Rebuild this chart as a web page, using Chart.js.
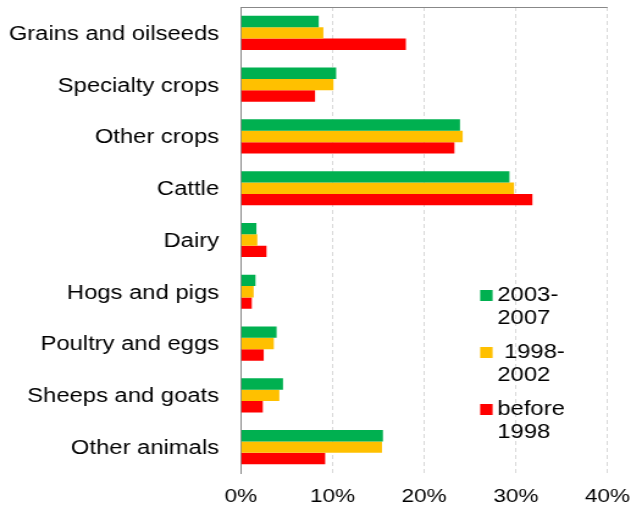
<!DOCTYPE html>
<html>
<head>
<meta charset="utf-8">
<script src="https://cdn.jsdelivr.net/npm/chart.js@4/dist/chart.umd.min.js"></script>
<style>
  html, body { margin: 0; padding: 0; background: #fff; overflow: hidden; }
  #wrap { position: absolute; left: 0; top: 0; width: 517px; height: 510px; transform: scaleX(1.2205); transform-origin: 0 0; }
</style>
</head>
<body>
<div id="wrap"><canvas id="c"></canvas></div>
<script>
const categories = ['Grains and oilseeds', 'Specialty crops', 'Other crops', 'Cattle', 'Dairy', 'Hogs and pigs', 'Poultry and eggs', 'Sheeps and goats', 'Other animals'];
const seriesNames = ['2003-2007', '1998-2002', 'before 1998'];
const legendLines = [['2003-', '2007'], [' 1998-', '2002'], ['before', '1998']];
const values2003_2007 = [8.5, 10.4, 23.9, 29.3, 1.7, 1.6, 3.9, 4.6, 15.5];
const values1998_2002 = [9.0, 10.1, 24.2, 29.8, 1.8, 1.4, 3.6, 4.2, 15.4];
const valuesBefore1998 = [18.0, 8.1, 23.3, 31.8, 2.8, 1.2, 2.5, 2.4, 9.2];
const xTicks = [0, 10, 20, 30, 40];

const colors = ['#00B050', '#FFC000', '#FF0000'];
const FONT = "'Liberation Sans', Arial, sans-serif";

const extras = {
  id: 'extras',
  afterDraw(chart) {
    const ctx = chart.ctx;
    const a = chart.chartArea;
    ctx.save();
    // top border
    ctx.strokeStyle = '#888888';
    ctx.lineWidth = 1;
    ctx.beginPath();
    ctx.moveTo(a.left, a.top + 0.5);
    ctx.lineTo(a.right, a.top + 0.5);
    ctx.stroke();
    // legend
    const boxX = 393.4, boxW = 10.2, boxH = 11, textX = 407.5;
    const firstBase = [301, 358, 415];
    ctx.font = '19.5px ' + FONT;
    ctx.textBaseline = 'alphabetic';
    ctx.textAlign = 'left';
    chart.data.datasets.forEach((ds, i) => {
      const b = firstBase[i];
      ctx.fillStyle = ds.backgroundColor;
      ctx.fillRect(boxX, b - boxH, boxW, boxH);
      ctx.fillStyle = '#000';
      legendLines[i].forEach((ln, j) => ctx.fillText(ln, textX, b + j * 22.5));
    });
    ctx.restore();
  }
};

new Chart(document.getElementById('c'), {
  type: 'bar',
  data: {
    labels: categories,
    datasets: [
      { label: seriesNames[0], data: values2003_2007, backgroundColor: colors[0] },
      { label: seriesNames[1], data: values1998_2002, backgroundColor: colors[1] },
      { label: seriesNames[2], data: valuesBefore1998, backgroundColor: colors[2] }
    ]
  },
  options: {
    indexAxis: 'y',
    responsive: true,
    maintainAspectRatio: false,
    animation: false,
    devicePixelRatio: 1,
    datasets: { bar: { categoryPercentage: 0.66, barPercentage: 1.0, borderWidth: 0 } },
    layout: { padding: { top: 7, right: 19.2, left: 0, bottom: 0 } },
    plugins: { legend: { display: false }, tooltip: { enabled: false } },
    scales: {
      x: {
        min: 0, max: 40,
        afterBuildTicks: (s) => { s.ticks = xTicks.map(v => ({ value: v })); },
        afterFit: (s) => { s.height = 37; s.paddingLeft = 0; s.paddingRight = 0; },
        ticks: { callback: (v) => v + '%', color: '#000', font: { family: FONT, size: 18.5 }, padding: 13, maxRotation: 0 },
        grid: {
          drawTicks: false,
          color: (c) => (c.tick && c.tick.value === 0) ? 'rgba(0,0,0,0)' : '#d9d9d9',
          lineWidth: 1
        },
        border: { display: false, dash: [4, 3] }
      },
      y: {
        afterFit: (s) => { s.width = 197.3; s.paddingTop = 0; s.paddingBottom = 0; },
        ticks: { color: '#000', font: { family: FONT, size: 19.5 }, padding: 17.8, labelOffset: 1.5 },
        grid: { display: false, drawTicks: false },
        border: { display: true, color: '#888888', width: 1 }
      }
    }
  },
  plugins: [extras]
});
</script>
</body>
</html>
